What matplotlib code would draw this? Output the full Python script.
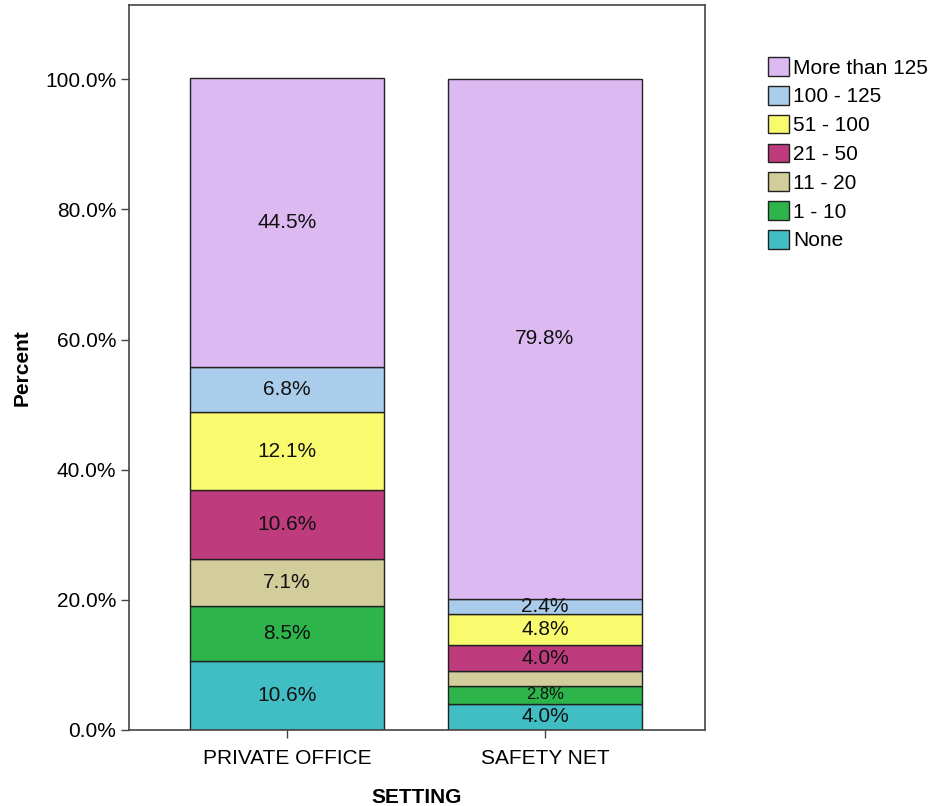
import matplotlib
matplotlib.use("Agg")
import matplotlib.pyplot as plt
from matplotlib.patches import Patch
import numpy as np

plt.rcParams['font.family'] = ['Liberation Sans', 'DejaVu Sans']

settings = ['PRIVATE OFFICE', 'SAFETY NET']
groups = ['None', '1 - 10', '11 - 20', '21 - 50', '51 - 100', '100 - 125', 'More than 125']
colors = ['#41bec3', '#2db44b', '#d2cd9b', '#be3c7d', '#fafa6e', '#aacdeb', '#dcb9f0']

private_office = [10.6, 8.5, 7.1, 10.6, 12.1, 6.8, 44.5]
safety_net = [4.0, 2.8, 2.2, 4.0, 4.8, 2.4, 79.8]
# which labels are shown (small segment on safety net has none)
show_private = [True] * 7
show_safety = [True, True, False, True, True, True, True]

fig = plt.figure(figsize=(9.36, 8.06), dpi=100)
ax = fig.add_axes([0.1378, 0.0943, 0.6154, 0.8995])

x = np.arange(len(settings))
data = np.array([private_office, safety_net])
shows = [show_private, show_safety]
bottom = np.zeros(len(settings))
for i, g in enumerate(groups):
    vals = data[:, i]
    ax.bar(x, vals, width=0.75, bottom=bottom, color=colors[i],
           edgecolor='#222222', linewidth=1.0, zorder=2)
    for j in range(len(settings)):
        if not shows[j][i]:
            continue
        size = 12 if (j == 1 and g == '1 - 10') else 15
        ax.text(x[j], bottom[j] + vals[j] / 2, f'{vals[j]:.1f}%',
                ha='center', va='center', fontsize=size, color='#111111', zorder=3)
    bottom += vals

ax.set_xlim(-0.612, 1.62)
ax.set_ylim(0, 111.4)
ax.set_yticks(np.arange(0, 101, 20))
ax.set_yticklabels([f'{v:.1f}%' for v in np.arange(0, 101, 20)])
ax.set_xticks(x)
ax.set_xticklabels(settings)
ax.tick_params(axis='both', labelsize=15, length=6, width=1, color='#444444', pad=3)
ax.tick_params(axis='x', pad=8)
for s in ax.spines.values():
    s.set_color('#444444')
    s.set_linewidth(1.2)

ax.set_xlabel('SETTING', fontsize=15, fontweight='bold', labelpad=14)
ax.set_ylabel('Percent', fontsize=15, fontweight='bold', labelpad=10)

handles = [Patch(facecolor=colors[i], edgecolor='#222222', linewidth=1.0) for i in range(len(groups))][::-1]
fig.legend(handles, groups[::-1], loc='upper left', bbox_to_anchor=(0.8205, 0.929),
           frameon=False, fontsize=15, handlelength=1.0, handleheight=1.0,
           handletextpad=0.2, labelspacing=0.4, borderpad=0, borderaxespad=0)

fig.savefig('out.png', dpi=100)
